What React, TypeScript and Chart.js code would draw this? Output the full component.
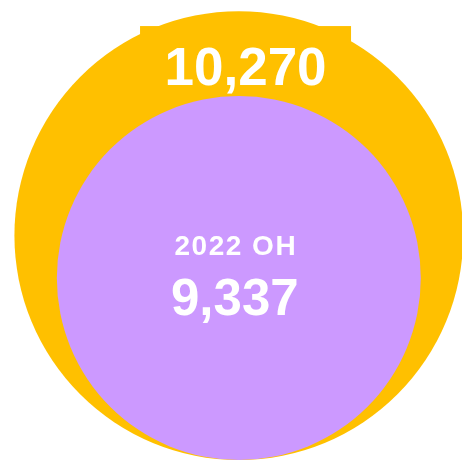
import React, { useEffect, useRef } from "react";
import { Chart, registerables } from "chart.js";

Chart.register(...registerables);

const categories = ["", "2022 OH"];
const values = [10270, 9337];
const colors = ["#FFC000", "#CC99FF"];

const W = 462;
const H = 460;
const Y_MAX = 2.05;
const X_MIN = -1.07;
const X_MAX = 1.0;
const FONT = '"Liberation Sans", Arial, Helvetica, sans-serif';
const maxV = Math.max(...values);
const radiusUnits = (v: number) => Math.pow(v / maxV, 2.2);
const pxPerUnit = H / Y_MAX;
const fmt = (v: number) => v.toLocaleString("en-US");

const labelPlugin = {
  id: "circleLabels",
  beforeDatasetsDraw(chart: any) {
    const el = chart.getDatasetMeta(0).data[0];
    if (!el) return;
    const ctx = chart.ctx;
    const r = el.options.radius;
    const lx = el.x + 0.03 * r;
    const ly = el.y - 0.74 * r;
    ctx.save();
    ctx.fillStyle = colors[0];
    ctx.fillRect(lx - 105.5, ly - 43.5, 211, 70);
    ctx.restore();
  },
  afterDatasetsDraw(chart: any) {
    const meta = chart.getDatasetMeta(0);
    const a = meta.data[0];
    const b = meta.data[1];
    if (!a || !b) return;
    const ctx = chart.ctx;
    ctx.save();
    ctx.textAlign = "center";
    ctx.textBaseline = "middle";
    ctx.fillStyle = "#FFFFFF";
    const ra = a.options.radius;
    ctx.font = `bold 53px ${FONT}`;
    ctx.fillText(fmt(values[0]), a.x + 0.03 * ra, a.y - 0.74 * ra + 1);
    const rb = b.options.radius;
    const lx = b.x - 4;
    ctx.font = `bold 28px ${FONT}`;
    (ctx as any).letterSpacing = "1.5px";
    ctx.fillText(categories[1], lx + 1, b.y - 0.168 * rb);
    (ctx as any).letterSpacing = "0px";
    ctx.font = `bold 51px ${FONT}`;
    ctx.fillText(fmt(values[1]), lx, b.y + 0.125 * rb);
    ctx.restore();
  },
};

export default function App() {
  const ref = useRef<HTMLCanvasElement | null>(null);
  useEffect(() => {
    document.body.style.margin = "0";
    if (!ref.current) return;
    const chart = new Chart(ref.current, {
      type: "bubble",
      data: {
        datasets: [
          {
            label: "values",
            data: values.map((v) => ({
              x: 0,
              y: radiusUnits(v),
              r: radiusUnits(v) * pxPerUnit,
            })),
            backgroundColor: colors,
            hoverBackgroundColor: colors,
            borderWidth: 0,
            hoverBorderWidth: 0,
            clip: false,
          },
        ] as any,
      },
      options: {
        animation: false,
        responsive: false,
        maintainAspectRatio: false,
        layout: { padding: 0, autoPadding: false },
        events: [],
        scales: {
          x: { type: "linear", min: X_MIN, max: X_MAX, display: false },
          y: { type: "linear", min: 0, max: Y_MAX, display: false },
        },
        plugins: {
          legend: { display: false },
          tooltip: { enabled: false },
        },
      },
      plugins: [labelPlugin],
    });
    return () => chart.destroy();
  }, []);
  return (
    <div style={{ width: W, height: H, background: "#FFFFFF" }}>
      <canvas ref={ref} width={W} height={H} />
    </div>
  );
}
